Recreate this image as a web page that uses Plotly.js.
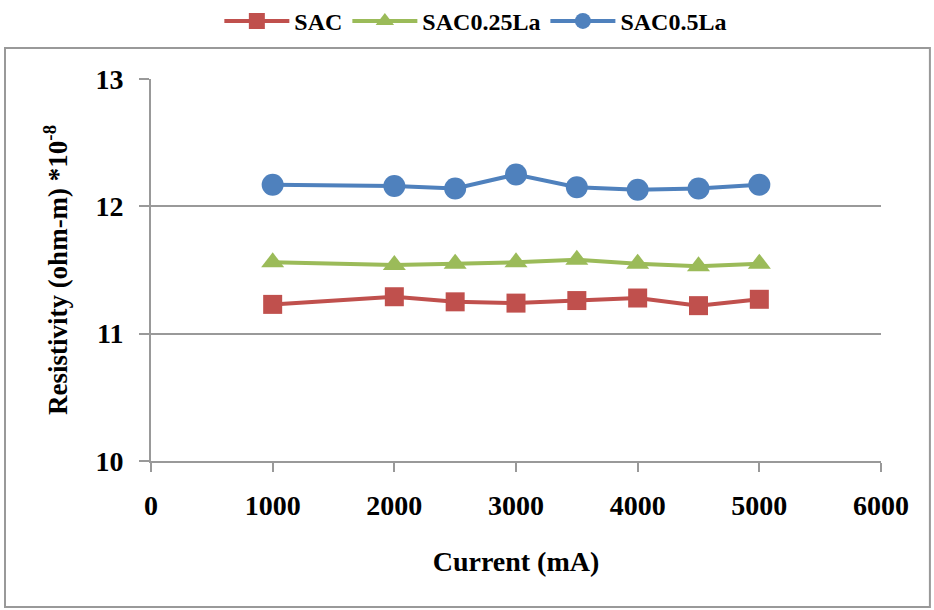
<!DOCTYPE html>
<html>
<head>
<meta charset="utf-8">
<script src="https://cdn.plot.ly/plotly-3.0.1.min.js"></script>
<style>html,body{margin:0;padding:0;background:#fff;}#chart{width:934px;height:610px;}</style>
</head>
<body>
<div id="chart"></div>
<script>
const current = [1000, 2000, 2500, 3000, 3500, 4000, 4500, 5000];
const sac = [11.23, 11.29, 11.25, 11.24, 11.26, 11.28, 11.22, 11.27];
const sac025La = [11.56, 11.54, 11.55, 11.56, 11.58, 11.55, 11.53, 11.55];
const sac05La = [12.17, 12.16, 12.14, 12.25, 12.15, 12.13, 12.14, 12.17];
const seriesNames = ["SAC", "SAC0.25La", "SAC0.5La"];
const xTicks = [0, 1000, 2000, 3000, 4000, 5000, 6000];
const yTicks = [10, 11, 12, 13];

const serif = "Liberation Serif";
const traces = [
  {x: current, y: sac, name: seriesNames[0], mode: "lines+markers",
   line: {color: "#C0504D", width: 4}, marker: {symbol: "square", size: 19, color: "#C0504D"}},
  {x: current, y: sac025La, name: seriesNames[1], mode: "lines+markers",
   line: {color: "#9BBB59", width: 4}, marker: {symbol: "triangle-up", size: 20, color: "#9BBB59"}},
  {x: current, y: sac05La, name: seriesNames[2], mode: "lines+markers",
   line: {color: "#4F81BD", width: 4}, marker: {symbol: "circle", size: 22, color: "#4F81BD"}}
];
const layout = {
  width: 934, height: 610,
  margin: {l: 151, r: 53, t: 79, b: 149},
  paper_bgcolor: "#fff", plot_bgcolor: "#fff",
  showlegend: true,
  legend: {orientation: "h", x: 0.445, xanchor: "center", yref: "container", y: 0.965, yanchor: "middle",
           font: {family: serif, size: 24, color: "#000", weight: "bold"}, itemwidth: 65},
  xaxis: {range: [0, 6000], tickvals: xTicks, ticks: "outside", ticklen: 9, tickcolor: "#999",
          tickwidth: 2, showline: true, linecolor: "#999", linewidth: 2, showgrid: false, zeroline: false,
          ticklabelstandoff: 9,
          tickfont: {family: serif, size: 28, color: "#000", weight: "bold"},
          title: {text: "Current (mA)", font: {family: serif, size: 28, color: "#000", weight: "bold"}, standoff: 32}},
  yaxis: {range: [10, 13], tickvals: yTicks, ticks: "outside", ticklen: 10, tickcolor: "#999",
          tickwidth: 2, showline: true, linecolor: "#999", linewidth: 2, showgrid: true, gridcolor: "#999",
          gridwidth: 2, zeroline: false, ticklabelstandoff: 10,
          tickfont: {family: serif, size: 28, color: "#000", weight: "bold"},
          title: {text: "Resistivity (ohm-m) *10<sup>-8</sup>", font: {family: serif, size: 27, color: "#000", weight: "bold"}, standoff: 20}},
  shapes: [{type: "rect", xref: "paper", yref: "paper", x0: -0.2, x1: 1.067, y0: -0.382, y1: 1.081,
            line: {color: "#999", width: 2}, fillcolor: "rgba(0,0,0,0)", layer: "below"}]
};
Plotly.newPlot("chart", traces, layout, {displayModeBar: false});
</script>
</body>
</html>
